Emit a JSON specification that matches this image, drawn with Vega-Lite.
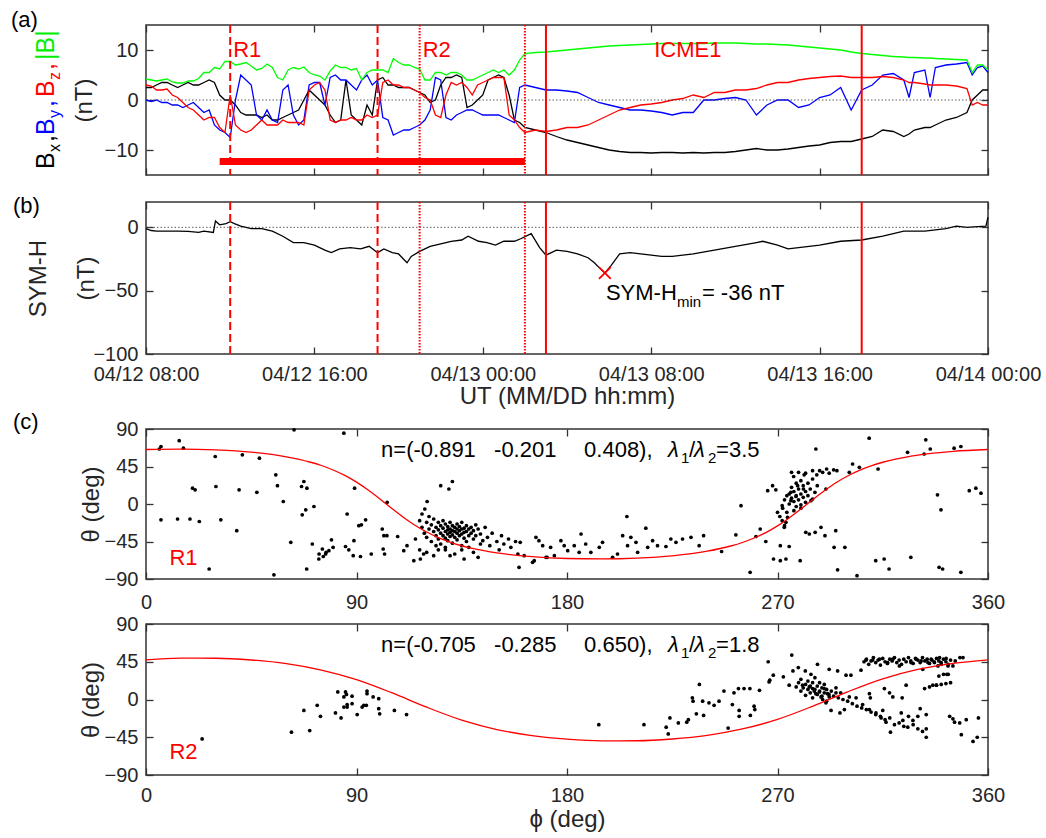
{
"$schema": "https://vega.github.io/schema/vega-lite/v6.json",
"background": "white",
"padding": {"left": 10, "top": 8, "right": 2, "bottom": 2},
"config": {
  "font": "Liberation Sans",
  "view": {"stroke": "#333333", "strokeWidth": 1.5},
  "axis": {"domain": false, "grid": false, "labelFontSize": 20, "labelColor": "#262626", "titleFontSize": 24, "titleColor": "#262626", "titleFontWeight": "normal", "tickColor": "#333333", "tickSize": -7, "tickWidth": 1.3, "labelPadding": 15, "labelFlush": false, "labelOverlap": false, "labelBound": false}
},
"datasets": {
"mag": [
{"t":"2016-04-12T08:00Z","bx":2.5,"by":0,"bz":3,"bt":4.2},
{"t":"2016-04-12T08:15Z","bx":2.5,"by":-0.3,"bz":2.8,"bt":4.0},
{"t":"2016-04-12T08:30Z","bx":3,"by":0,"bz":2,"bt":3.8},
{"t":"2016-04-12T08:45Z","bx":3.5,"by":-0.5,"bz":2,"bt":4.0},
{"t":"2016-04-12T09:00Z","bx":3.5,"by":-0.5,"bz":2.2,"bt":4.2},
{"t":"2016-04-12T09:15Z","bx":3,"by":-1,"bz":1,"bt":3.6},
{"t":"2016-04-12T09:30Z","bx":2.5,"by":-1,"bz":0.5,"bt":3.4},
{"t":"2016-04-12T09:45Z","bx":3,"by":-1.5,"bz":-0.5,"bt":3.4},
{"t":"2016-04-12T10:00Z","bx":3.5,"by":-1,"bz":-1.5,"bt":3.8},
{"t":"2016-04-12T10:15Z","bx":3,"by":-0.5,"bz":-2,"bt":3.8},
{"t":"2016-04-12T10:30Z","bx":3,"by":-1.5,"bz":-3,"bt":4.3},
{"t":"2016-04-12T10:45Z","bx":3.5,"by":-2.5,"bz":-4,"bt":5.5},
{"t":"2016-04-12T11:00Z","bx":4,"by":-2,"bz":-3.5,"bt":5.5},
{"t":"2016-04-12T11:15Z","bx":3.5,"by":-5,"bz":-3.5,"bt":6.5},
{"t":"2016-04-12T11:30Z","bx":1,"by":-6,"bz":-5.5,"bt":6.2},
{"t":"2016-04-12T11:45Z","bx":0,"by":-6.5,"bz":-6.5,"bt":7.7},
{"t":"2016-04-12T12:00Z","bx":0,"by":-7.5,"bz":1,"bt":7.7},
{"t":"2016-04-12T12:15Z","bx":-1,"by":0,"bz":-5,"bt":7},
{"t":"2016-04-12T12:30Z","bx":-2.5,"by":5,"bz":-6,"bt":7.2},
{"t":"2016-04-12T12:45Z","bx":-3,"by":4,"bz":-6.5,"bt":7.5},
{"t":"2016-04-12T13:00Z","bx":-3,"by":3,"bz":-6,"bt":6.8},
{"t":"2016-04-12T13:15Z","bx":-3,"by":-3,"bz":-5,"bt":6},
{"t":"2016-04-12T13:30Z","bx":-3.5,"by":-4,"bz":-4,"bt":6.3},
{"t":"2016-04-12T13:45Z","bx":-3,"by":-2,"bz":-5,"bt":7.2},
{"t":"2016-04-12T14:00Z","bx":-4,"by":-4,"bz":-5,"bt":6.5},
{"t":"2016-04-12T14:15Z","bx":-4,"by":-4.5,"bz":-5,"bt":4.5},
{"t":"2016-04-12T14:30Z","bx":-3.5,"by":2,"bz":-4,"bt":4},
{"t":"2016-04-12T14:45Z","bx":-3,"by":3,"bz":-4.5,"bt":6},
{"t":"2016-04-12T15:00Z","bx":-2.5,"by":-3,"bz":-4.5,"bt":6.5},
{"t":"2016-04-12T15:15Z","bx":-2,"by":-5,"bz":-4.5,"bt":6.2},
{"t":"2016-04-12T15:30Z","bx":0,"by":-4,"bz":-5,"bt":6.6},
{"t":"2016-04-12T15:45Z","bx":2,"by":3,"bz":2,"bt":5.5},
{"t":"2016-04-12T16:00Z","bx":1,"by":3.5,"bz":3,"bt":5},
{"t":"2016-04-12T16:15Z","bx":0,"by":3.5,"bz":3.5,"bt":4.8},
{"t":"2016-04-12T16:30Z","bx":-1,"by":-1,"bz":2,"bt":4},
{"t":"2016-04-12T16:45Z","bx":-3,"by":4.5,"bz":-4,"bt":5.8},
{"t":"2016-04-12T17:00Z","bx":-4.5,"by":5,"bz":-4.5,"bt":7},
{"t":"2016-04-12T17:15Z","bx":-4,"by":4,"bz":-4,"bt":6.5},
{"t":"2016-04-12T17:30Z","bx":4,"by":4,"bz":-4,"bt":6.5},
{"t":"2016-04-12T17:45Z","bx":-3,"by":3,"bz":-3.5,"bt":6},
{"t":"2016-04-12T18:00Z","bx":-4,"by":2,"bz":-4,"bt":6.3},
{"t":"2016-04-12T18:15Z","bx":-5,"by":4,"bz":-4,"bt":4},
{"t":"2016-04-12T18:30Z","bx":-1,"by":5,"bz":-3,"bt":5.5},
{"t":"2016-04-12T18:45Z","bx":-3,"by":3,"bz":-3.5,"bt":6},
{"t":"2016-04-12T19:00Z","bx":4,"by":4,"bz":-3,"bt":6},
{"t":"2016-04-12T19:15Z","bx":4.5,"by":-3.5,"bz":3.5,"bt":6},
{"t":"2016-04-12T19:30Z","bx":3,"by":-4,"bz":4,"bt":5.5},
{"t":"2016-04-12T19:45Z","bx":3,"by":-7,"bz":3,"bt":8.3},
{"t":"2016-04-12T20:00Z","bx":2.5,"by":-6.5,"bz":3,"bt":7.5},
{"t":"2016-04-12T20:15Z","bx":2.5,"by":-6,"bz":2.5,"bt":7},
{"t":"2016-04-12T20:30Z","bx":2.5,"by":-6,"bz":2.5,"bt":7},
{"t":"2016-04-12T20:45Z","bx":2,"by":-5.5,"bz":2,"bt":6.5},
{"t":"2016-04-12T21:00Z","bx":1.5,"by":-5,"bz":1.5,"bt":6.2},
{"t":"2016-04-12T21:15Z","bx":1,"by":-4,"bz":0.5,"bt":4},
{"t":"2016-04-12T21:30Z","bx":-0.5,"by":-2,"bz":0,"bt":4},
{"t":"2016-04-12T21:45Z","bx":0,"by":4.5,"bz":-3,"bt":5.5},
{"t":"2016-04-12T22:00Z","bx":3,"by":4,"bz":-3.5,"bt":5.5},
{"t":"2016-04-12T22:15Z","bx":4.5,"by":-3.5,"bz":1,"bt":5},
{"t":"2016-04-12T22:30Z","bx":4.5,"by":-4,"bz":3.5,"bt":5.5},
{"t":"2016-04-12T22:45Z","bx":5,"by":-3,"bz":3,"bt":5.5},
{"t":"2016-04-12T23:00Z","bx":4.5,"by":-2.5,"bz":3.5,"bt":5},
{"t":"2016-04-12T23:15Z","bx":-1.5,"by":-2,"bz":2.5,"bt":4},
{"t":"2016-04-12T23:30Z","bx":-1,"by":-2,"bz":1,"bt":4},
{"t":"2016-04-12T23:45Z","bx":0,"by":-2.5,"bz":3,"bt":4.5},
{"t":"2016-04-13T00:00Z","bx":1,"by":-3,"bz":3.5,"bt":5},
{"t":"2016-04-13T00:15Z","bx":4,"by":-3,"bz":4,"bt":5.5},
{"t":"2016-04-13T00:30Z","bx":4.5,"by":-3,"bz":4.5,"bt":6},
{"t":"2016-04-13T00:45Z","bx":5,"by":-3,"bz":4.5,"bt":5.5},
{"t":"2016-04-13T01:00Z","bx":4.5,"by":-3.5,"bz":4.5,"bt":6},
{"t":"2016-04-13T01:15Z","bx":1,"by":-4,"bz":-3,"bt":5},
{"t":"2016-04-13T01:30Z","bx":-4,"by":-4.5,"bz":-4,"bt":6},
{"t":"2016-04-13T01:45Z","bx":-4.5,"by":2.5,"bz":-5.5,"bt":8},
{"t":"2016-04-13T02:00Z","bx":-5.5,"by":3,"bz":-6.5,"bt":9.3},
{"t":"2016-04-13T02:30Z","bx":-6,"by":2.5,"bz":-6,"bt":9.5},
{"t":"2016-04-13T03:00Z","bx":-6.5,"by":2,"bz":-6.3,"bt":9.6},
{"t":"2016-04-13T03:30Z","bx":-7.3,"by":2,"bz":-6,"bt":9.8},
{"t":"2016-04-13T04:00Z","bx":-8,"by":1.8,"bz":-5.5,"bt":10},
{"t":"2016-04-13T04:30Z","bx":-8.5,"by":1.5,"bz":-5.5,"bt":10.2},
{"t":"2016-04-13T05:00Z","bx":-9,"by":0.5,"bz":-5,"bt":10.4},
{"t":"2016-04-13T05:30Z","bx":-9.5,"by":-0.5,"bz":-4,"bt":10.6},
{"t":"2016-04-13T06:00Z","bx":-10,"by":-1,"bz":-3,"bt":10.8},
{"t":"2016-04-13T06:30Z","bx":-10.3,"by":-1.5,"bz":-2,"bt":10.9},
{"t":"2016-04-13T07:00Z","bx":-10.5,"by":-2,"bz":-1.5,"bt":11},
{"t":"2016-04-13T07:30Z","bx":-10.5,"by":-2,"bz":-1,"bt":11.1},
{"t":"2016-04-13T08:00Z","bx":-10.6,"by":-2.2,"bz":-0.8,"bt":11.2},
{"t":"2016-04-13T08:30Z","bx":-10.5,"by":-2.5,"bz":-0.5,"bt":11.3},
{"t":"2016-04-13T09:00Z","bx":-10.5,"by":-3,"bz":0,"bt":11.3},
{"t":"2016-04-13T09:30Z","bx":-10.6,"by":-2.5,"bz":0.3,"bt":11.3},
{"t":"2016-04-13T10:00Z","bx":-10.5,"by":-2.5,"bz":1,"bt":11.3},
{"t":"2016-04-13T10:30Z","bx":-10.6,"by":0,"bz":0.5,"bt":11.3},
{"t":"2016-04-13T11:00Z","bx":-10.5,"by":0,"bz":1.5,"bt":11.4},
{"t":"2016-04-13T11:30Z","bx":-10.5,"by":0.3,"bz":1.5,"bt":11.4},
{"t":"2016-04-13T12:00Z","bx":-10.3,"by":0.5,"bz":2,"bt":11.4},
{"t":"2016-04-13T12:30Z","bx":-10,"by":0,"bz":2,"bt":11.3},
{"t":"2016-04-13T13:00Z","bx":-9.7,"by":-3,"bz":2.3,"bt":11.2},
{"t":"2016-04-13T13:30Z","bx":-10,"by":-1,"bz":3,"bt":11.2},
{"t":"2016-04-13T14:00Z","bx":-10,"by":0,"bz":3.5,"bt":11.1},
{"t":"2016-04-13T14:30Z","bx":-9.8,"by":0,"bz":3.5,"bt":11},
{"t":"2016-04-13T15:00Z","bx":-9.5,"by":-1.5,"bz":4,"bt":10.8},
{"t":"2016-04-13T15:30Z","bx":-9.2,"by":-1,"bz":4.3,"bt":10.6},
{"t":"2016-04-13T16:00Z","bx":-9,"by":0.5,"bz":4.5,"bt":10.4},
{"t":"2016-04-13T16:30Z","bx":-8.5,"by":1,"bz":4.7,"bt":10.2},
{"t":"2016-04-13T17:00Z","bx":-8.3,"by":2.5,"bz":4.8,"bt":10},
{"t":"2016-04-13T17:30Z","bx":-8.3,"by":-2,"bz":4.5,"bt":9.6},
{"t":"2016-04-13T18:00Z","bx":-7.8,"by":2,"bz":4.5,"bt":9.3},
{"t":"2016-04-13T18:30Z","bx":-7.3,"by":3,"bz":4.5,"bt":9.1},
{"t":"2016-04-13T19:00Z","bx":-6,"by":5,"bz":4.7,"bt":8.9},
{"t":"2016-04-13T19:30Z","bx":-6.3,"by":5.3,"bz":4.5,"bt":8.7},
{"t":"2016-04-13T20:00Z","bx":-7.3,"by":4,"bz":4,"bt":8.6},
{"t":"2016-04-13T20:15Z","bx":-6.8,"by":0.5,"bz":3.5,"bt":8.5},
{"t":"2016-04-13T20:30Z","bx":-6,"by":5.5,"bz":3.5,"bt":8.5},
{"t":"2016-04-13T21:00Z","bx":-5.5,"by":6,"bz":3.2,"bt":8.4},
{"t":"2016-04-13T21:15Z","bx":-5.5,"by":0.5,"bz":3,"bt":8.4},
{"t":"2016-04-13T21:30Z","bx":-5,"by":6.5,"bz":3,"bt":8.3},
{"t":"2016-04-13T22:00Z","bx":-4,"by":7,"bz":3,"bt":8.2},
{"t":"2016-04-13T22:30Z","bx":-3.5,"by":7.2,"bz":2.8,"bt":8.1},
{"t":"2016-04-13T23:00Z","bx":-2.5,"by":7.5,"bz":2.3,"bt":8},
{"t":"2016-04-13T23:15Z","bx":0,"by":5,"bz":-1,"bt":5.5},
{"t":"2016-04-13T23:30Z","bx":1,"by":6.5,"bz":-0.5,"bt":7},
{"t":"2016-04-13T23:45Z","bx":2,"by":6.8,"bz":-1,"bt":7},
{"t":"2016-04-14T00:00Z","bx":2,"by":5.5,"bz":-1,"bt":6}
],
"symh": [
{"t":"2016-04-12T08:00Z","symh":-1},{"t":"2016-04-12T08:15Z","symh":-2.5},{"t":"2016-04-12T08:30Z","symh":-3},{"t":"2016-04-12T09:00Z","symh":-3},{"t":"2016-04-12T09:30Z","symh":-3},{"t":"2016-04-12T10:00Z","symh":-3.2},{"t":"2016-04-12T10:30Z","symh":-4},{"t":"2016-04-12T10:45Z","symh":-3},{"t":"2016-04-12T11:12Z","symh":-4},{"t":"2016-04-12T11:18Z","symh":5},{"t":"2016-04-12T11:30Z","symh":2},{"t":"2016-04-12T11:48Z","symh":3},{"t":"2016-04-12T12:00Z","symh":4.5},{"t":"2016-04-12T12:12Z","symh":3},{"t":"2016-04-12T12:30Z","symh":1},{"t":"2016-04-12T13:00Z","symh":-1},{"t":"2016-04-12T13:30Z","symh":-1},{"t":"2016-04-12T14:00Z","symh":-3},{"t":"2016-04-12T14:30Z","symh":-7},{"t":"2016-04-12T15:00Z","symh":-12},{"t":"2016-04-12T15:30Z","symh":-12},{"t":"2016-04-12T16:00Z","symh":-14},{"t":"2016-04-12T16:30Z","symh":-18},{"t":"2016-04-12T16:48Z","symh":-20},{"t":"2016-04-12T17:12Z","symh":-17},{"t":"2016-04-12T17:42Z","symh":-16},{"t":"2016-04-12T18:12Z","symh":-17},{"t":"2016-04-12T18:36Z","symh":-15},{"t":"2016-04-12T19:00Z","symh":-20},{"t":"2016-04-12T19:18Z","symh":-17},{"t":"2016-04-12T19:42Z","symh":-20},{"t":"2016-04-12T20:00Z","symh":-21},{"t":"2016-04-12T20:24Z","symh":-28},{"t":"2016-04-12T20:36Z","symh":-23},{"t":"2016-04-12T21:00Z","symh":-19},{"t":"2016-04-12T21:30Z","symh":-15},{"t":"2016-04-12T22:00Z","symh":-13},{"t":"2016-04-12T22:30Z","symh":-11},{"t":"2016-04-12T23:00Z","symh":-10},{"t":"2016-04-12T23:18Z","symh":-7},{"t":"2016-04-12T23:48Z","symh":-11},{"t":"2016-04-13T00:12Z","symh":-12},{"t":"2016-04-13T00:36Z","symh":-14},{"t":"2016-04-13T01:00Z","symh":-11},{"t":"2016-04-13T01:30Z","symh":-11},{"t":"2016-04-13T01:48Z","symh":-9},{"t":"2016-04-13T02:18Z","symh":-5},{"t":"2016-04-13T02:42Z","symh":-16},{"t":"2016-04-13T03:00Z","symh":-22},{"t":"2016-04-13T03:30Z","symh":-18},{"t":"2016-04-13T04:00Z","symh":-19},{"t":"2016-04-13T04:30Z","symh":-21},{"t":"2016-04-13T05:00Z","symh":-24},{"t":"2016-04-13T05:18Z","symh":-28},{"t":"2016-04-13T05:36Z","symh":-33},{"t":"2016-04-13T05:48Z","symh":-36},{"t":"2016-04-13T06:06Z","symh":-30},{"t":"2016-04-13T06:30Z","symh":-21},{"t":"2016-04-13T07:00Z","symh":-20},{"t":"2016-04-13T07:30Z","symh":-21},{"t":"2016-04-13T08:00Z","symh":-22},{"t":"2016-04-13T08:30Z","symh":-23},{"t":"2016-04-13T09:00Z","symh":-23},{"t":"2016-04-13T10:00Z","symh":-21},{"t":"2016-04-13T11:00Z","symh":-18},{"t":"2016-04-13T12:00Z","symh":-15},{"t":"2016-04-13T13:00Z","symh":-12},{"t":"2016-04-13T13:18Z","symh":-11},{"t":"2016-04-13T14:00Z","symh":-14},{"t":"2016-04-13T14:30Z","symh":-17},{"t":"2016-04-13T15:00Z","symh":-16},{"t":"2016-04-13T16:00Z","symh":-14},{"t":"2016-04-13T17:00Z","symh":-11},{"t":"2016-04-13T18:00Z","symh":-10},{"t":"2016-04-13T19:00Z","symh":-7},{"t":"2016-04-13T20:00Z","symh":-3},{"t":"2016-04-13T21:00Z","symh":-3},{"t":"2016-04-13T22:00Z","symh":-1},{"t":"2016-04-13T22:30Z","symh":1},{"t":"2016-04-13T23:00Z","symh":0},{"t":"2016-04-13T23:30Z","symh":0.5},{"t":"2016-04-13T23:54Z","symh":1},{"t":"2016-04-14T00:00Z","symh":8}
],
"symhmin": [{"t":"2016-04-13T05:48Z","symh":-36}],
"events": [
{"t":"2016-04-12T12:00Z","interval":"R1"},{"t":"2016-04-12T19:00Z","interval":"R1"},
{"t":"2016-04-12T21:00Z","interval":"R2"},{"t":"2016-04-13T02:00Z","interval":"R2"},
{"t":"2016-04-13T03:00Z","interval":"ICME1"},{"t":"2016-04-13T18:00Z","interval":"ICME1"}
],
"span": [{"start":"2016-04-12T11:30Z","end":"2016-04-13T02:00Z","level":-12.3}],
"labelsA": [{"t":"2016-04-12T12:00Z","y":10,"label":"R1"},{"t":"2016-04-12T21:00Z","y":10,"label":"R2"},{"t":"2016-04-13T08:00Z","y":10,"label":"ICME1"}],
"curve1": [
{"phi":0,"theta":65.4},{"phi":15,"theta":65.9},{"phi":30,"theta":64.9},{"phi":45,"theta":62.2},{"phi":60,"theta":56.6},{"phi":70,"theta":50.4},{"phi":75,"theta":46.2},{"phi":80,"theta":40.8},{"phi":85,"theta":34.3},{"phi":90,"theta":26.2},{"phi":95,"theta":16.7},{"phi":100,"theta":6.1},{"phi":105,"theta":-5.1},{"phi":110,"theta":-15.8},{"phi":115,"theta":-25.5},{"phi":120,"theta":-33.6},{"phi":125,"theta":-40.3},{"phi":130,"theta":-45.7},{"phi":135,"theta":-50.1},{"phi":140,"theta":-53.6},{"phi":150,"theta":-58.7},{"phi":165,"theta":-63.2},{"phi":180,"theta":-65.4},{"phi":195,"theta":-65.9},{"phi":210,"theta":-64.9},{"phi":225,"theta":-62.2},{"phi":240,"theta":-56.6},{"phi":250,"theta":-50.4},{"phi":255,"theta":-46.2},{"phi":260,"theta":-40.8},{"phi":265,"theta":-34.3},{"phi":270,"theta":-26.2},{"phi":275,"theta":-16.7},{"phi":280,"theta":-6.1},{"phi":285,"theta":5.1},{"phi":290,"theta":15.8},{"phi":295,"theta":25.5},{"phi":300,"theta":33.6},{"phi":305,"theta":40.3},{"phi":310,"theta":45.7},{"phi":315,"theta":50.1},{"phi":320,"theta":53.6},{"phi":330,"theta":58.7},{"phi":345,"theta":63.2},{"phi":360,"theta":65.4}
],
"curve2": [
{"phi":0,"theta":47.3},{"phi":15,"theta":49.3},{"phi":30,"theta":49.2},{"phi":45,"theta":47.1},{"phi":60,"theta":42.7},{"phi":75,"theta":35.1},{"phi":90,"theta":23.7},{"phi":105,"theta":8.1},{"phi":120,"theta":-9.2},{"phi":135,"theta":-24.6},{"phi":150,"theta":-35.8},{"phi":165,"theta":-43.0},{"phi":180,"theta":-47.3},{"phi":195,"theta":-49.3},{"phi":210,"theta":-49.2},{"phi":225,"theta":-47.1},{"phi":240,"theta":-42.7},{"phi":255,"theta":-35.1},{"phi":270,"theta":-23.7},{"phi":285,"theta":-8.1},{"phi":300,"theta":9.2},{"phi":315,"theta":24.6},{"phi":330,"theta":35.8},{"phi":345,"theta":43.0},{"phi":360,"theta":47.3}
],
"c1": [
{"phi":5.7,"theta":66},{"phi":6.4,"theta":69},{"phi":14.2,"theta":76},{"phi":16,"theta":67},{"phi":6.4,"theta":-19},{"phi":13.5,"theta":-18},{"phi":18.8,"theta":-18},{"phi":22.8,"theta":-21},{"phi":19.9,"theta":19},{"phi":21,"theta":17},{"phi":27,"theta":-78},{"phi":29.6,"theta":57},{"phi":29.9,"theta":21},{"phi":32,"theta":-19},{"phi":38.8,"theta":-32},{"phi":39.8,"theta":17},{"phi":41.2,"theta":59},{"phi":47.4,"theta":14},{"phi":48.5,"theta":55},{"phi":54.7,"theta":-85},{"phi":55.5,"theta":35},{"phi":56.2,"theta":22},{"phi":58.7,"theta":3},{"phi":61.9,"theta":-46},{"phi":63.3,"theta":89},{"phi":66.5,"theta":21},{"phi":67.5,"theta":27},{"phi":68.8,"theta":19},{"phi":66.8,"theta":-13},{"phi":68.3,"theta":-7},{"phi":68.7,"theta":-78},{"phi":71.1,"theta":-48},{"phi":71.8,"theta":-3},{"phi":73.9,"theta":-66},{"phi":75.4,"theta":-54},{"phi":76.8,"theta":-60},{"phi":75.8,"theta":-63},{"phi":78.2,"theta":-56},{"phi":79.3,"theta":-43},{"phi":84.6,"theta":85},{"phi":86,"theta":-12},{"phi":85.3,"theta":-51},{"phi":86.7,"theta":-55},{"phi":88.9,"theta":-44},{"phi":88.6,"theta":-62},{"phi":89.2,"theta":19},{"phi":91,"theta":-26},{"phi":92.1,"theta":-25},{"phi":93.9,"theta":-19},{"phi":91.7,"theta":-63},{"phi":96.3,"theta":-60},{"phi":101,"theta":-30},{"phi":101.7,"theta":-38},{"phi":101.4,"theta":-54},{"phi":102,"theta":-60},{"phi":103.1,"theta":2},{"phi":103,"theta":-38},{"phi":107.6,"theta":-39},{"phi":110.2,"theta":-56},{"phi":111.6,"theta":-50},{"phi":114.5,"theta":-68},{"phi":115.2,"theta":-42},{"phi":117.3,"theta":-66},{"phi":118.7,"theta":-60},{"phi":120.2,"theta":3},{"phi":119.2,"theta":-6},{"phi":77,"theta":-58},{"phi":80,"theta":-52},{"phi":74,"theta":-60},
{"phi":126,"theta":22},{"phi":129.5,"theta":18},{"phi":131,"theta":27},
{"phi":117,"theta":-20},{"phi":118,"theta":-12},{"phi":118,"theta":-28},{"phi":119,"theta":-35},{"phi":120,"theta":-22},{"phi":120,"theta":-40},{"phi":121,"theta":-15},{"phi":121,"theta":-30},{"phi":122,"theta":-25},{"phi":122,"theta":-45},{"phi":123,"theta":-18},{"phi":123,"theta":-33},{"phi":124,"theta":-28},{"phi":124,"theta":-38},{"phi":124,"theta":-50},{"phi":125,"theta":-22},{"phi":125,"theta":-31},{"phi":125,"theta":-42},{"phi":126,"theta":-26},{"phi":126,"theta":-35},{"phi":126,"theta":-48},{"phi":127,"theta":-20},{"phi":127,"theta":-29},{"phi":127,"theta":-38},{"phi":128,"theta":-24},{"phi":128,"theta":-33},{"phi":128,"theta":-41},{"phi":128,"theta":-55},{"phi":129,"theta":-27},{"phi":129,"theta":-31},{"phi":129,"theta":-36},{"phi":129,"theta":-44},{"phi":130,"theta":-22},{"phi":130,"theta":-30},{"phi":130,"theta":-34},{"phi":130,"theta":-39},{"phi":131,"theta":-26},{"phi":131,"theta":-32},{"phi":131,"theta":-37},{"phi":131,"theta":-47},{"phi":132,"theta":-28},{"phi":132,"theta":-33},{"phi":132,"theta":-40},{"phi":133,"theta":-24},{"phi":133,"theta":-30},{"phi":133,"theta":-35},{"phi":133,"theta":-43},{"phi":134,"theta":-27},{"phi":134,"theta":-32},{"phi":134,"theta":-38},{"phi":135,"theta":-22},{"phi":135,"theta":-30},{"phi":135,"theta":-36},{"phi":135,"theta":-50},{"phi":136,"theta":-29},{"phi":136,"theta":-34},{"phi":136,"theta":-41},{"phi":137,"theta":-26},{"phi":137,"theta":-33},{"phi":137,"theta":-45},{"phi":138,"theta":-30},{"phi":138,"theta":-38},{"phi":139,"theta":-28},{"phi":139,"theta":-35},{"phi":140,"theta":-32},{"phi":140,"theta":-42},{"phi":141,"theta":-25},{"phi":141,"theta":-38},{"phi":142,"theta":-30},{"phi":143,"theta":-36},{"phi":144,"theta":-44},{"phi":145,"theta":-28},
{"phi":117,"theta":-55},{"phi":120,"theta":-58},{"phi":123,"theta":-62},{"phi":125,"theta":-55},{"phi":128,"theta":-52},{"phi":132,"theta":-60},{"phi":135,"theta":-55},{"phi":138,"theta":-52},{"phi":140,"theta":-58},{"phi":143,"theta":-48},{"phi":146,"theta":-40},{"phi":147,"theta":-50},{"phi":148,"theta":-35},{"phi":150,"theta":-45},{"phi":151,"theta":-55},{"phi":152,"theta":-38},{"phi":153,"theta":-48},{"phi":155,"theta":-42},{"phi":156,"theta":-52},{"phi":158,"theta":-45},{"phi":159,"theta":-60},{"phi":142,"theta":-64},{"phi":136,"theta":-66},{"phi":130,"theta":-62},{"phi":159.5,"theta":-76},{"phi":166,"theta":-68},{"phi":171.5,"theta":-64},
{"phi":160,"theta":-46},{"phi":161.7,"theta":-62},{"phi":165.3,"theta":-70},{"phi":166.7,"theta":-40},{"phi":168,"theta":-44},{"phi":169.6,"theta":-50},{"phi":171,"theta":-64},{"phi":173,"theta":-52},{"phi":174.6,"theta":-62},{"phi":177.4,"theta":-44},{"phi":178.8,"theta":-50},{"phi":180.3,"theta":-56},{"phi":183.1,"theta":-50},{"phi":185.2,"theta":-58},{"phi":186,"theta":-36},{"phi":188,"theta":-48},{"phi":190.2,"theta":-58},{"phi":193.8,"theta":-52},{"phi":195.2,"theta":-46},{"phi":199.5,"theta":-64},{"phi":201.6,"theta":-60},{"phi":203.8,"theta":-38},{"phi":205.6,"theta":-15},{"phi":205.9,"theta":-50},{"phi":207.3,"theta":-40},{"phi":209.5,"theta":-46},{"phi":210.2,"theta":-58},{"phi":213.7,"theta":-29},{"phi":214.5,"theta":-52},{"phi":216.6,"theta":-44},{"phi":218.7,"theta":-50},{"phi":222.3,"theta":-51},{"phi":224.4,"theta":-42},{"phi":226.6,"theta":-46},{"phi":229.4,"theta":-42},{"phi":233,"theta":-40},{"phi":236.5,"theta":-50},{"phi":238.4,"theta":-38},{"phi":246.1,"theta":-57},{"phi":252.2,"theta":-37},{"phi":254.4,"theta":-2},{"phi":258.3,"theta":-82},{"phi":260.8,"theta":-39},{"phi":262.6,"theta":-30},{"phi":265,"theta":-45},{"phi":267.9,"theta":22},{"phi":265.8,"theta":16},{"phi":269.3,"theta":17},{"phi":268.3,"theta":-66},{"phi":271.2,"theta":-50},{"phi":271.2,"theta":-68},{"phi":273.6,"theta":-66},{"phi":272.2,"theta":-5},{"phi":272.9,"theta":-28},{"phi":273.6,"theta":-22},{"phi":274.3,"theta":-16},{"phi":275,"theta":-51},{"phi":275.7,"theta":4},{"phi":275.7,"theta":14},{"phi":276.9,"theta":33},{"phi":277.9,"theta":9},{"phi":278.6,"theta":22},{"phi":279.7,"theta":-68},{"phi":280,"theta":-1},{"phi":281.1,"theta":18},{"phi":281.4,"theta":35},{"phi":282.1,"theta":-34},{"phi":283.6,"theta":-36},{"phi":284.3,"theta":4},{"phi":286.4,"theta":66},{"phi":286.1,"theta":-34},{"phi":286.8,"theta":35},{"phi":288.6,"theta":-28},{"phi":289.3,"theta":38},{"phi":290.3,"theta":-38},{"phi":290.7,"theta":18},{"phi":292.1,"theta":37},{"phi":294.2,"theta":-52},{"phi":294.9,"theta":-32},{"phi":295.4,"theta":40},{"phi":295.7,"theta":-79},{"phi":298.8,"theta":-52},{"phi":300.7,"theta":38},{"phi":302.1,"theta":48},{"phi":304,"theta":-86},{"phi":305,"theta":44},{"phi":309.2,"theta":79},{"phi":312,"theta":-68},{"phi":313,"theta":42},{"phi":315.6,"theta":-66},{"phi":317.7,"theta":-78},{"phi":325.6,"theta":62},{"phi":327,"theta":-64},{"phi":332.7,"theta":60},{"phi":333.4,"theta":77},{"phi":335.3,"theta":66},{"phi":338.4,"theta":11},{"phi":339.9,"theta":-7},{"phi":339.1,"theta":-76},{"phi":340.6,"theta":-78},{"phi":345.5,"theta":67},{"phi":348.4,"theta":69},{"phi":348.4,"theta":-82},{"phi":352,"theta":16},{"phi":354.8,"theta":19},{"phi":357,"theta":13},
{"phi":272,"theta":-2},{"phi":273,"theta":5},{"phi":274,"theta":10},{"phi":274,"theta":-10},{"phi":275,"theta":12},{"phi":275,"theta":0},{"phi":276,"theta":7},{"phi":276,"theta":20},{"phi":277,"theta":3},{"phi":277,"theta":15},{"phi":277,"theta":-8},{"phi":278,"theta":10},{"phi":278,"theta":25},{"phi":278,"theta":-3},{"phi":279,"theta":5},{"phi":279,"theta":18},{"phi":280,"theta":12},{"phi":280,"theta":28},{"phi":280,"theta":-5},{"phi":281,"theta":8},{"phi":281,"theta":22},{"phi":282,"theta":15},{"phi":282,"theta":2},{"phi":283,"theta":10},{"phi":283,"theta":25},{"phi":284,"theta":18},{"phi":285,"theta":6},{"phi":285,"theta":30},{"phi":286,"theta":14},{"phi":287,"theta":22},{"phi":271,"theta":-15},{"phi":272,"theta":-20},{"phi":273,"theta":-26},{"phi":270,"theta":-10},
{"phi":276,"theta":38},{"phi":279,"theta":38},{"phi":282,"theta":37},{"phi":285,"theta":40},{"phi":288,"theta":40},{"phi":291,"theta":42},{"phi":294,"theta":41}
],
"c2": [
{"phi":24,"theta":-47},{"phi":62.2,"theta":-39},{"phi":67.5,"theta":-13},{"phi":70,"theta":-37},{"phi":73.2,"theta":-7},{"phi":74.6,"theta":-20},{"phi":81,"theta":-16},{"phi":82,"theta":9},{"phi":83.4,"theta":-22},{"phi":84.6,"theta":3},{"phi":85.3,"theta":9},{"phi":85.7,"theta":6},{"phi":84.6,"theta":-9},{"phi":86,"theta":-9},{"phi":88.1,"theta":4},{"phi":88.1,"theta":-5},{"phi":90.3,"theta":-18},{"phi":92.4,"theta":-9},{"phi":93.1,"theta":-7},{"phi":94.5,"theta":10},{"phi":94.5,"theta":7},{"phi":94.2,"theta":-7},{"phi":97.1,"theta":3},{"phi":99.5,"theta":1},{"phi":99.5,"theta":-11},{"phi":99.9,"theta":-17},{"phi":106.2,"theta":-13},{"phi":111.4,"theta":-18},{"phi":86,"theta":-6},
{"phi":193.6,"theta":-30},{"phi":212.9,"theta":-30},{"phi":222.4,"theta":-33},{"phi":223.3,"theta":-41},{"phi":224,"theta":-22},{"phi":227.6,"theta":-28},{"phi":231.2,"theta":-27},{"phi":231.9,"theta":-24},{"phi":233.6,"theta":2},{"phi":233.9,"theta":-2},{"phi":235.3,"theta":-17},{"phi":236.6,"theta":18},{"phi":238,"theta":-2},{"phi":238.4,"theta":-19},{"phi":240.7,"theta":-4},{"phi":242.9,"theta":-7},{"phi":245,"theta":-2},{"phi":247.1,"theta":10},{"phi":248.9,"theta":-34},{"phi":250.7,"theta":-6},{"phi":251.4,"theta":8},{"phi":253.3,"theta":13},{"phi":253.6,"theta":-13},{"phi":253.6,"theta":-20},{"phi":255.7,"theta":13},{"phi":258.2,"theta":13},{"phi":258.4,"theta":-19},{"phi":260,"theta":-8},{"phi":260.3,"theta":-12},{"phi":262.3,"theta":11},{"phi":266,"theta":45},{"phi":266.4,"theta":21},{"phi":266.7,"theta":23},{"phi":268.2,"theta":29},{"phi":272.5,"theta":27},{"phi":275,"theta":17},{"phi":276.1,"theta":53},{"phi":276.6,"theta":34},{"phi":278.9,"theta":38},{"phi":280.7,"theta":17},{"phi":281.9,"theta":34},{"phi":283.6,"theta":15},{"phi":284.3,"theta":30},{"phi":285,"theta":13},{"phi":287.1,"theta":42},{"phi":285.7,"theta":10},{"phi":286.4,"theta":7},{"phi":287.9,"theta":9},{"phi":288.6,"theta":3},{"phi":289.3,"theta":0},{"phi":290,"theta":13},{"phi":290.7,"theta":-4},{"phi":291.4,"theta":7},{"phi":292.1,"theta":36},{"phi":292.1,"theta":3},{"phi":292.9,"theta":-13},{"phi":295,"theta":8},{"phi":295.7,"theta":34},{"phi":296.7,"theta":-16},{"phi":298.6,"theta":-12},{"phi":299.3,"theta":29},{"phi":300.7,"theta":3},{"phi":301.4,"theta":29},{"phi":303.6,"theta":2},{"phi":305.7,"theta":35},{"phi":306.4,"theta":-6},{"phi":307.9,"theta":47},{"phi":309.3,"theta":7},{"phi":309.7,"theta":2},{"phi":309.3,"theta":-12},{"phi":310.7,"theta":47},{"phi":312.1,"theta":-16},{"phi":313.6,"theta":48},{"phi":314.3,"theta":-22},{"phi":315,"theta":-13},{"phi":315.7,"theta":13},{"phi":316.4,"theta":-27},{"phi":317.1,"theta":44},{"phi":317.9,"theta":8},{"phi":318.3,"theta":-39},{"phi":319.3,"theta":48},{"phi":319.3,"theta":3},{"phi":322.1,"theta":40},{"phi":322.9,"theta":-16},{"phi":323.3,"theta":2},{"phi":323.6,"theta":-25},{"phi":325,"theta":17},{"phi":325.7,"theta":-33},{"phi":327.1,"theta":44},{"phi":327.9,"theta":-25},{"phi":329.3,"theta":48},{"phi":330,"theta":-20},{"phi":331,"theta":-11},{"phi":331.4,"theta":46},{"phi":332.1,"theta":36},{"phi":332.9,"theta":13},{"phi":333.6,"theta":-18},{"phi":333.6,"theta":-35},{"phi":333.6,"theta":-45},{"phi":334.3,"theta":44},{"phi":335,"theta":15},{"phi":335.7,"theta":48},{"phi":336.4,"theta":17},{"phi":337.1,"theta":44},{"phi":337.9,"theta":17},{"phi":338.6,"theta":40},{"phi":339.3,"theta":50},{"phi":340,"theta":42},{"phi":342.1,"theta":49},{"phi":342.4,"theta":30},{"phi":342.9,"theta":40},{"phi":343.6,"theta":-20},{"phi":345,"theta":-23},{"phi":345.7,"theta":-27},{"phi":347.9,"theta":-28},{"phi":348.6,"theta":-42},{"phi":349.3,"theta":50},{"phi":350.7,"theta":-24},{"phi":353.6,"theta":-50},{"phi":355.4,"theta":-45},{"phi":355.9,"theta":-22},
{"phi":307,"theta":45},{"phi":308,"theta":48},{"phi":309,"theta":42},{"phi":310,"theta":46},{"phi":311,"theta":50},{"phi":312,"theta":44},{"phi":313,"theta":47},{"phi":314,"theta":41},{"phi":315,"theta":49},{"phi":316,"theta":45},{"phi":317,"theta":43},{"phi":318,"theta":48},{"phi":319,"theta":46},{"phi":320,"theta":50},{"phi":321,"theta":44},{"phi":322,"theta":47},{"phi":323,"theta":42},{"phi":324,"theta":48},{"phi":325,"theta":45},{"phi":326,"theta":50},{"phi":327,"theta":46},{"phi":328,"theta":43},{"phi":329,"theta":49},{"phi":330,"theta":47},{"phi":331,"theta":44},{"phi":332,"theta":50},{"phi":333,"theta":46},{"phi":334,"theta":48},{"phi":335,"theta":43},{"phi":336,"theta":47},{"phi":337,"theta":45},{"phi":338,"theta":49},{"phi":339,"theta":46},{"phi":340,"theta":44},{"phi":341,"theta":48},{"phi":342,"theta":45},{"phi":343,"theta":42},{"phi":344,"theta":47},{"phi":345,"theta":40},{"phi":346,"theta":46},{"phi":348,"theta":50},
{"phi":278,"theta":15},{"phi":279,"theta":20},{"phi":280,"theta":10},{"phi":280,"theta":24},{"phi":281,"theta":14},{"phi":282,"theta":18},{"phi":282,"theta":5},{"phi":283,"theta":22},{"phi":283,"theta":12},{"phi":284,"theta":8},{"phi":284,"theta":16},{"phi":285,"theta":20},{"phi":285,"theta":2},{"phi":286,"theta":12},{"phi":286,"theta":26},{"phi":287,"theta":6},{"phi":287,"theta":16},{"phi":288,"theta":10},{"phi":288,"theta":20},{"phi":289,"theta":4},{"phi":289,"theta":14},{"phi":290,"theta":8},{"phi":290,"theta":18},{"phi":291,"theta":-2},{"phi":291,"theta":12},{"phi":292,"theta":6},{"phi":293,"theta":10},{"phi":294,"theta":4},{"phi":295,"theta":14},{"phi":296,"theta":2},{"phi":297,"theta":8},{"phi":298,"theta":0},
{"phi":300,"theta":-2},{"phi":302,"theta":-5},{"phi":304,"theta":-8},{"phi":306,"theta":-10},{"phi":308,"theta":-12},{"phi":310,"theta":-15},{"phi":312,"theta":-18},{"phi":314,"theta":-20},{"phi":316,"theta":-24},{"phi":318,"theta":-22},{"phi":320,"theta":-30},{"phi":322,"theta":-28},{"phi":324,"theta":-32},{"phi":326,"theta":-20},{"phi":328,"theta":-30},{"phi":330,"theta":-35},{"phi":332,"theta":-38},
{"phi":338,"theta":17},{"phi":340,"theta":18},{"phi":342,"theta":19},{"phi":344,"theta":20},{"phi":339,"theta":28},{"phi":341,"theta":30},{"phi":343,"theta":30}
]
},
"bounds": "flush",
"spacing": 0,
"vconcat": [
{
 "width": 842, "height": 150,
 "resolve": {"axis": {"x": "independent", "y": "independent"}},
 "layer": [
  {"data": {"name": "mag"}, "transform": [{"fold": ["bx","by","bz","bt"], "as": ["component","nT"]}],
   "mark": {"type": "line", "strokeWidth": 1.3},
   "encoding": {
    "x": {"field": "t", "type": "temporal", "scale": {"type": "utc", "domain": [{"year":2016,"month":4,"date":12,"hours":8,"utc":true},{"year":2016,"month":4,"date":14,"hours":0,"utc":true}]},
          "axis": {"orient": "bottom", "labels": false, "title": null, "values": [{"year":2016,"month":4,"date":12,"hours":8,"utc":true},{"year":2016,"month":4,"date":12,"hours":16,"utc":true},{"year":2016,"month":4,"date":13,"hours":0,"utc":true},{"year":2016,"month":4,"date":13,"hours":8,"utc":true},{"year":2016,"month":4,"date":13,"hours":16,"utc":true},{"year":2016,"month":4,"date":14,"hours":0,"utc":true}]}},
    "y": {"field": "nT", "type": "quantitative", "scale": {"domain": [-15,15], "nice": false, "zero": false}, "axis": {"values": [-10,0,10], "title": "(nT)", "titlePadding": 8}},
    "color": {"field": "component", "type": "nominal", "scale": {"domain": ["bx","by","bz","bt"], "range": ["#000000","#0000ff","#ff0000","#00ff00"]}, "legend": null}
   }},
  {"data": {"name": "mag"}, "mark": {"type": "point", "opacity": 0},
   "encoding": {
    "x": {"field": "t", "type": "temporal", "scale": {"type": "utc", "domain": [{"year":2016,"month":4,"date":12,"hours":8,"utc":true},{"year":2016,"month":4,"date":14,"hours":0,"utc":true}]},
          "axis": {"orient": "top", "labels": false, "title": null, "values": [{"year":2016,"month":4,"date":12,"hours":8,"utc":true},{"year":2016,"month":4,"date":12,"hours":16,"utc":true},{"year":2016,"month":4,"date":13,"hours":0,"utc":true},{"year":2016,"month":4,"date":13,"hours":8,"utc":true},{"year":2016,"month":4,"date":13,"hours":16,"utc":true},{"year":2016,"month":4,"date":14,"hours":0,"utc":true}]}},
    "y": {"field": "bx", "type": "quantitative", "scale": {"domain": [-15,15], "nice": false, "zero": false}, "axis": {"orient": "right", "labels": false, "title": null, "values": [-10,0,10]}}
   }},
  {"data": {"values": [{}]}, "mark": {"type": "rule", "color": "#333333", "strokeWidth": 0.8, "strokeDash": [1.5,2]},
   "encoding": {"y": {"datum": 0, "type": "quantitative", "scale": {"domain": [-15,15], "nice": false, "zero": false}, "axis": null}}},
  {"data": {"name": "events"}, "transform": [{"filter": {"field": "interval", "equal": "R1"}}], "mark": {"type": "rule", "color": "#ff0000", "strokeWidth": 2, "strokeDash": [8,4]},
   "encoding": {"x": {"field": "t", "type": "temporal", "axis": null}}},
  {"data": {"name": "events"}, "transform": [{"filter": {"field": "interval", "equal": "R2"}}], "mark": {"type": "rule", "color": "#ff0000", "strokeWidth": 2, "strokeDash": [1.5,1.5]},
   "encoding": {"x": {"field": "t", "type": "temporal", "axis": null}}},
  {"data": {"name": "events"}, "transform": [{"filter": {"field": "interval", "equal": "ICME1"}}], "mark": {"type": "rule", "color": "#ff0000", "strokeWidth": 2},
   "encoding": {"x": {"field": "t", "type": "temporal", "axis": null}}},
  {"data": {"name": "span"}, "mark": {"type": "rule", "color": "#ff0000", "strokeWidth": 7},
   "encoding": {"x": {"field": "start", "type": "temporal", "axis": null}, "x2": {"field": "end"}, "y": {"field": "level", "type": "quantitative", "axis": null}}},
  {"data": {"name": "labelsA"}, "mark": {"type": "text", "color": "#ff0000", "fontSize": 22, "align": "left", "baseline": "middle", "dx": 3},
   "encoding": {"x": {"field": "t", "type": "temporal", "axis": null}, "y": {"field": "y", "type": "quantitative", "axis": null}, "text": {"field": "label"}}},
  {"data": {"values": [{}]}, "mark": {"type": "text", "text": "(a)", "fontSize": 22, "align": "left", "baseline": "top", "dx": -135, "dy": -15, "color": "#000000"},
   "encoding": {"x": {"datum": {"year":2016,"month":4,"date":12,"hours":8,"utc":true}, "type": "temporal", "axis": null}, "y": {"datum": 15, "type": "quantitative", "axis": null}}},
  {"data": {"values": [{}]}, "mark": {"type": "text", "text": "B", "angle": 270, "align": "left", "baseline": "alphabetic", "fontSize": 25, "color": "#000000", "dx": -69, "dy": -92},
   "encoding": {"x": {"datum": {"year":2016,"month":4,"date":12,"hours":8,"utc":true}, "type": "temporal", "axis": null}, "y": {"datum": 0, "type": "quantitative", "axis": null}}},
  {"data": {"values": [{}]}, "mark": {"type": "text", "text": "x", "angle": 270, "align": "left", "baseline": "alphabetic", "fontSize": 16, "color": "#000000", "dx": -52, "dy": -86},
   "encoding": {"x": {"datum": {"year":2016,"month":4,"date":12,"hours":8,"utc":true}, "type": "temporal", "axis": null}, "y": {"datum": 0, "type": "quantitative", "axis": null}}},
  {"data": {"values": [{}]}, "mark": {"type": "text", "text": ",", "angle": 270, "align": "left", "baseline": "alphabetic", "fontSize": 25, "color": "#000000", "dx": -42, "dy": -92},
   "encoding": {"x": {"datum": {"year":2016,"month":4,"date":12,"hours":8,"utc":true}, "type": "temporal", "axis": null}, "y": {"datum": 0, "type": "quantitative", "axis": null}}},
  {"data": {"values": [{}]}, "mark": {"type": "text", "text": "B", "angle": 270, "align": "left", "baseline": "alphabetic", "fontSize": 25, "color": "#0000ff", "dx": -35, "dy": -92},
   "encoding": {"x": {"datum": {"year":2016,"month":4,"date":12,"hours":8,"utc":true}, "type": "temporal", "axis": null}, "y": {"datum": 0, "type": "quantitative", "axis": null}}},
  {"data": {"values": [{}]}, "mark": {"type": "text", "text": "y", "angle": 270, "align": "left", "baseline": "alphabetic", "fontSize": 16, "color": "#0000ff", "dx": -18, "dy": -86},
   "encoding": {"x": {"datum": {"year":2016,"month":4,"date":12,"hours":8,"utc":true}, "type": "temporal", "axis": null}, "y": {"datum": 0, "type": "quantitative", "axis": null}}},
  {"data": {"values": [{}]}, "mark": {"type": "text", "text": ",", "angle": 270, "align": "left", "baseline": "alphabetic", "fontSize": 25, "color": "#0000ff", "dx": -7, "dy": -92},
   "encoding": {"x": {"datum": {"year":2016,"month":4,"date":12,"hours":8,"utc":true}, "type": "temporal", "axis": null}, "y": {"datum": 0, "type": "quantitative", "axis": null}}},
  {"data": {"values": [{}]}, "mark": {"type": "text", "text": "B", "angle": 270, "align": "left", "baseline": "alphabetic", "fontSize": 25, "color": "#ff0000", "dx": 3, "dy": -92},
   "encoding": {"x": {"datum": {"year":2016,"month":4,"date":12,"hours":8,"utc":true}, "type": "temporal", "axis": null}, "y": {"datum": 0, "type": "quantitative", "axis": null}}},
  {"data": {"values": [{}]}, "mark": {"type": "text", "text": "z", "angle": 270, "align": "left", "baseline": "alphabetic", "fontSize": 16, "color": "#ff0000", "dx": 20, "dy": -86},
   "encoding": {"x": {"datum": {"year":2016,"month":4,"date":12,"hours":8,"utc":true}, "type": "temporal", "axis": null}, "y": {"datum": 0, "type": "quantitative", "axis": null}}},
  {"data": {"values": [{}]}, "mark": {"type": "text", "text": ",", "angle": 270, "align": "left", "baseline": "alphabetic", "fontSize": 25, "color": "#ff0000", "dx": 30, "dy": -92},
   "encoding": {"x": {"datum": {"year":2016,"month":4,"date":12,"hours":8,"utc":true}, "type": "temporal", "axis": null}, "y": {"datum": 0, "type": "quantitative", "axis": null}}},
  {"data": {"values": [{}]}, "mark": {"type": "text", "text": "|B|", "angle": 270, "align": "left", "baseline": "alphabetic", "fontSize": 25, "color": "#00ee00", "dx": 40, "dy": -92},
   "encoding": {"x": {"datum": {"year":2016,"month":4,"date":12,"hours":8,"utc":true}, "type": "temporal", "axis": null}, "y": {"datum": 0, "type": "quantitative", "axis": null}}}
 ]
},
{"width": 842, "height": 27, "view": {"stroke": null}, "data": {"values": [{}]}, "mark": {"type": "text", "text": ""}, "encoding": {}},
{
 "width": 842, "height": 152,
 "resolve": {"axis": {"x": "independent", "y": "independent"}},
 "layer": [
  {"data": {"name": "symh"}, "mark": {"type": "line", "color": "#000000", "strokeWidth": 1.3},
   "encoding": {
    "x": {"field": "t", "type": "temporal", "scale": {"type": "utc", "domain": [{"year":2016,"month":4,"date":12,"hours":8,"utc":true},{"year":2016,"month":4,"date":14,"hours":0,"utc":true}]},
          "axis": {"orient": "bottom", "labelExpr": "utcFormat(datum.value, '%m/%d %H:%M')", "title": "UT (MM/DD hh:mm)", "labelPadding": 17, "titlePadding": 0, "values": [{"year":2016,"month":4,"date":12,"hours":8,"utc":true},{"year":2016,"month":4,"date":12,"hours":16,"utc":true},{"year":2016,"month":4,"date":13,"hours":0,"utc":true},{"year":2016,"month":4,"date":13,"hours":8,"utc":true},{"year":2016,"month":4,"date":13,"hours":16,"utc":true},{"year":2016,"month":4,"date":14,"hours":0,"utc":true}]}},
    "y": {"field": "symh", "type": "quantitative", "scale": {"domain": [-100,20], "nice": false, "zero": false}, "axis": {"values": [-100,-50,0], "title": ["SYM-H", "(nT)"], "titleLineHeight": 48, "titlePadding": -6}}
   }},
  {"data": {"name": "symh"}, "mark": {"type": "point", "opacity": 0},
   "encoding": {
    "x": {"field": "t", "type": "temporal", "axis": {"orient": "top", "labels": false, "title": null, "values": [{"year":2016,"month":4,"date":12,"hours":8,"utc":true},{"year":2016,"month":4,"date":12,"hours":16,"utc":true},{"year":2016,"month":4,"date":13,"hours":0,"utc":true},{"year":2016,"month":4,"date":13,"hours":8,"utc":true},{"year":2016,"month":4,"date":13,"hours":16,"utc":true},{"year":2016,"month":4,"date":14,"hours":0,"utc":true}]}},
    "y": {"field": "symh", "type": "quantitative", "axis": {"orient": "right", "labels": false, "title": null, "values": [-100,-50,0]}}
   }},
  {"data": {"values": [{}]}, "mark": {"type": "rule", "color": "#333333", "strokeWidth": 0.8, "strokeDash": [1.5,2]},
   "encoding": {"y": {"datum": 0, "type": "quantitative", "axis": null}}},
  {"data": {"name": "events"}, "transform": [{"filter": {"field": "interval", "equal": "R1"}}], "mark": {"type": "rule", "color": "#ff0000", "strokeWidth": 2, "strokeDash": [8,4]},
   "encoding": {"x": {"field": "t", "type": "temporal", "axis": null}}},
  {"data": {"name": "events"}, "transform": [{"filter": {"field": "interval", "equal": "R2"}}], "mark": {"type": "rule", "color": "#ff0000", "strokeWidth": 2, "strokeDash": [1.5,1.5]},
   "encoding": {"x": {"field": "t", "type": "temporal", "axis": null}}},
  {"data": {"name": "events"}, "transform": [{"filter": {"field": "interval", "equal": "ICME1"}}], "mark": {"type": "rule", "color": "#ff0000", "strokeWidth": 2},
   "encoding": {"x": {"field": "t", "type": "temporal", "axis": null}}},
  {"data": {"name": "symhmin"}, "mark": {"type": "point", "shape": "M-1,-1L1,1M-1,1L1,-1", "size": 140, "filled": false, "stroke": "#ff0000", "strokeWidth": 1.8, "opacity": 1},
   "encoding": {"x": {"field": "t", "type": "temporal", "axis": null}, "y": {"field": "symh", "type": "quantitative", "axis": null}}},
  {"data": {"name": "symhmin"}, "mark": {"type": "text", "text": "SYM-H", "fontSize": 22, "align": "left", "baseline": "alphabetic", "color": "#000000", "dx": 1, "dy": 27.5},
   "encoding": {"x": {"field": "t", "type": "temporal", "axis": null}, "y": {"field": "symh", "type": "quantitative", "axis": null}}},
  {"data": {"name": "symhmin"}, "mark": {"type": "text", "text": "min", "fontSize": 15, "align": "left", "baseline": "alphabetic", "color": "#000000", "dx": 72, "dy": 34},
   "encoding": {"x": {"field": "t", "type": "temporal", "axis": null}, "y": {"field": "symh", "type": "quantitative", "axis": null}}},
  {"data": {"name": "symhmin"}, "mark": {"type": "text", "text": "= -36 nT", "fontSize": 22, "align": "left", "baseline": "alphabetic", "color": "#000000", "dx": 97, "dy": 27.5},
   "encoding": {"x": {"field": "t", "type": "temporal", "axis": null}, "y": {"field": "symh", "type": "quantitative", "axis": null}}},
  {"data": {"values": [{}]}, "mark": {"type": "text", "text": "(b)", "fontSize": 22, "align": "left", "baseline": "top", "dx": -133, "dy": -6, "color": "#000000"},
   "encoding": {"x": {"datum": {"year":2016,"month":4,"date":12,"hours":8,"utc":true}, "type": "temporal", "axis": null}, "y": {"datum": 20, "type": "quantitative", "axis": null}}}
 ]
},
{"width": 842, "height": 75, "view": {"stroke": null}, "data": {"values": [{}]}, "mark": {"type": "text", "text": ""}, "encoding": {}},
{
 "width": 842, "height": 150,
 "resolve": {"axis": {"x": "independent", "y": "independent"}},
 "layer": [
  {"data": {"name": "c1"}, "mark": {"type": "circle", "color": "#000000", "size": 14, "opacity": 1},
   "encoding": {
    "x": {"field": "phi", "type": "quantitative", "scale": {"domain": [0,360], "nice": false, "zero": false}, "axis": {"values": [0,90,180,270,360], "title": null, "labelPadding": 20.5}},
    "y": {"field": "theta", "type": "quantitative", "scale": {"domain": [-90,90], "nice": false, "zero": false}, "axis": {"values": [-90,-45,0,45,90], "title": "θ (deg)", "titlePadding": 1}}
   }},
  {"data": {"name": "curve1"}, "mark": {"type": "line", "color": "#ff0000", "strokeWidth": 1.3, "interpolate": "monotone"},
   "encoding": {"x": {"field": "phi", "type": "quantitative", "axis": null}, "y": {"field": "theta", "type": "quantitative", "axis": null}}},
  {"data": {"name": "curve1"}, "mark": {"type": "point", "opacity": 0},
   "encoding": {
    "x": {"field": "phi", "type": "quantitative", "axis": {"orient": "top", "labels": false, "title": null, "values": [0,90,180,270,360]}},
    "y": {"field": "theta", "type": "quantitative", "axis": {"orient": "right", "labels": false, "title": null, "values": [-90,-45,0,45,90]}}
   }},
  {"data": {"values": [{}]}, "mark": {"type": "text", "text": "R1", "fontSize": 22, "align": "left", "baseline": "alphabetic", "color": "#ff0000"},
   "encoding": {"x": {"datum": 10, "type": "quantitative", "axis": null}, "y": {"datum": -73, "type": "quantitative", "axis": null}}},
  {"data": {"values": [{}]}, "mark": {"type": "text", "text": "n=(-0.891", "fontSize": 22, "align": "left", "baseline": "alphabetic", "color": "#000000", "dx": 0},
   "encoding": {"x": {"datum": 100.5, "type": "quantitative", "axis": null}, "y": {"datum": 56, "type": "quantitative", "axis": null}}},
  {"data": {"values": [{}]}, "mark": {"type": "text", "text": "-0.201", "fontSize": 22, "align": "left", "baseline": "alphabetic", "color": "#000000", "dx": 113},
   "encoding": {"x": {"datum": 100.5, "type": "quantitative", "axis": null}, "y": {"datum": 56, "type": "quantitative", "axis": null}}},
  {"data": {"values": [{}]}, "mark": {"type": "text", "text": "0.408),", "fontSize": 22, "align": "left", "baseline": "alphabetic", "color": "#000000", "dx": 203},
   "encoding": {"x": {"datum": 100.5, "type": "quantitative", "axis": null}, "y": {"datum": 56, "type": "quantitative", "axis": null}}},
  {"data": {"values": [{}]}, "mark": {"type": "text", "text": "λ", "fontSize": 22, "fontStyle": "italic", "align": "left", "baseline": "alphabetic", "color": "#000000", "dx": 287},
   "encoding": {"x": {"datum": 100.5, "type": "quantitative", "axis": null}, "y": {"datum": 56, "type": "quantitative", "axis": null}}},
  {"data": {"values": [{}]}, "mark": {"type": "text", "text": "1", "fontSize": 15, "align": "left", "baseline": "alphabetic", "color": "#000000", "dx": 300, "dy": 6},
   "encoding": {"x": {"datum": 100.5, "type": "quantitative", "axis": null}, "y": {"datum": 56, "type": "quantitative", "axis": null}}},
  {"data": {"values": [{}]}, "mark": {"type": "text", "text": "/", "fontSize": 22, "align": "left", "baseline": "alphabetic", "color": "#000000", "dx": 308},
   "encoding": {"x": {"datum": 100.5, "type": "quantitative", "axis": null}, "y": {"datum": 56, "type": "quantitative", "axis": null}}},
  {"data": {"values": [{}]}, "mark": {"type": "text", "text": "λ", "fontSize": 22, "fontStyle": "italic", "align": "left", "baseline": "alphabetic", "color": "#000000", "dx": 313},
   "encoding": {"x": {"datum": 100.5, "type": "quantitative", "axis": null}, "y": {"datum": 56, "type": "quantitative", "axis": null}}},
  {"data": {"values": [{}]}, "mark": {"type": "text", "text": "2", "fontSize": 15, "align": "left", "baseline": "alphabetic", "color": "#000000", "dx": 327, "dy": 6},
   "encoding": {"x": {"datum": 100.5, "type": "quantitative", "axis": null}, "y": {"datum": 56, "type": "quantitative", "axis": null}}},
  {"data": {"values": [{}]}, "mark": {"type": "text", "text": "=3.5", "fontSize": 22, "align": "left", "baseline": "alphabetic", "color": "#000000", "dx": 335},
   "encoding": {"x": {"datum": 100.5, "type": "quantitative", "axis": null}, "y": {"datum": 56, "type": "quantitative", "axis": null}}},
  {"data": {"values": [{}]}, "mark": {"type": "text", "text": "(c)", "fontSize": 22, "align": "left", "baseline": "top", "dx": -133, "dy": -17, "color": "#000000"},
   "encoding": {"x": {"datum": 0, "type": "quantitative", "axis": null}, "y": {"datum": 90, "type": "quantitative", "axis": null}}}
 ]
},
{"width": 842, "height": 45, "view": {"stroke": null}, "data": {"values": [{}]}, "mark": {"type": "text", "text": ""}, "encoding": {}},
{
 "width": 842, "height": 151,
 "resolve": {"axis": {"x": "independent", "y": "independent"}},
 "layer": [
  {"data": {"name": "c2"}, "mark": {"type": "circle", "color": "#000000", "size": 14, "opacity": 1},
   "encoding": {
    "x": {"field": "phi", "type": "quantitative", "scale": {"domain": [0,360], "nice": false, "zero": false}, "axis": {"values": [0,90,180,270,360], "title": "ϕ (deg)", "labelPadding": 17.5, "titlePadding": 2}},
    "y": {"field": "theta", "type": "quantitative", "scale": {"domain": [-90,90], "nice": false, "zero": false}, "axis": {"values": [-90,-45,0,45,90], "title": "θ (deg)", "titlePadding": 1}}
   }},
  {"data": {"name": "curve2"}, "mark": {"type": "line", "color": "#ff0000", "strokeWidth": 1.3, "interpolate": "monotone"},
   "encoding": {"x": {"field": "phi", "type": "quantitative", "axis": null}, "y": {"field": "theta", "type": "quantitative", "axis": null}}},
  {"data": {"name": "curve2"}, "mark": {"type": "point", "opacity": 0},
   "encoding": {
    "x": {"field": "phi", "type": "quantitative", "axis": {"orient": "top", "labels": false, "title": null, "values": [0,90,180,270,360]}},
    "y": {"field": "theta", "type": "quantitative", "axis": {"orient": "right", "labels": false, "title": null, "values": [-90,-45,0,45,90]}}
   }},
  {"data": {"values": [{}]}, "mark": {"type": "text", "text": "R2", "fontSize": 22, "align": "left", "baseline": "alphabetic", "color": "#ff0000"},
   "encoding": {"x": {"datum": 10, "type": "quantitative", "axis": null}, "y": {"datum": -71, "type": "quantitative", "axis": null}}},
  {"data": {"values": [{}]}, "mark": {"type": "text", "text": "n=(-0.705", "fontSize": 22, "align": "left", "baseline": "alphabetic", "color": "#000000", "dx": 0},
   "encoding": {"x": {"datum": 100.5, "type": "quantitative", "axis": null}, "y": {"datum": 56.5, "type": "quantitative", "axis": null}}},
  {"data": {"values": [{}]}, "mark": {"type": "text", "text": "-0.285", "fontSize": 22, "align": "left", "baseline": "alphabetic", "color": "#000000", "dx": 113},
   "encoding": {"x": {"datum": 100.5, "type": "quantitative", "axis": null}, "y": {"datum": 56.5, "type": "quantitative", "axis": null}}},
  {"data": {"values": [{}]}, "mark": {"type": "text", "text": "0.650),", "fontSize": 22, "align": "left", "baseline": "alphabetic", "color": "#000000", "dx": 203},
   "encoding": {"x": {"datum": 100.5, "type": "quantitative", "axis": null}, "y": {"datum": 56.5, "type": "quantitative", "axis": null}}},
  {"data": {"values": [{}]}, "mark": {"type": "text", "text": "λ", "fontSize": 22, "fontStyle": "italic", "align": "left", "baseline": "alphabetic", "color": "#000000", "dx": 287},
   "encoding": {"x": {"datum": 100.5, "type": "quantitative", "axis": null}, "y": {"datum": 56.5, "type": "quantitative", "axis": null}}},
  {"data": {"values": [{}]}, "mark": {"type": "text", "text": "1", "fontSize": 15, "align": "left", "baseline": "alphabetic", "color": "#000000", "dx": 300, "dy": 6},
   "encoding": {"x": {"datum": 100.5, "type": "quantitative", "axis": null}, "y": {"datum": 56.5, "type": "quantitative", "axis": null}}},
  {"data": {"values": [{}]}, "mark": {"type": "text", "text": "/", "fontSize": 22, "align": "left", "baseline": "alphabetic", "color": "#000000", "dx": 308},
   "encoding": {"x": {"datum": 100.5, "type": "quantitative", "axis": null}, "y": {"datum": 56.5, "type": "quantitative", "axis": null}}},
  {"data": {"values": [{}]}, "mark": {"type": "text", "text": "λ", "fontSize": 22, "fontStyle": "italic", "align": "left", "baseline": "alphabetic", "color": "#000000", "dx": 313},
   "encoding": {"x": {"datum": 100.5, "type": "quantitative", "axis": null}, "y": {"datum": 56.5, "type": "quantitative", "axis": null}}},
  {"data": {"values": [{}]}, "mark": {"type": "text", "text": "2", "fontSize": 15, "align": "left", "baseline": "alphabetic", "color": "#000000", "dx": 327, "dy": 6},
   "encoding": {"x": {"datum": 100.5, "type": "quantitative", "axis": null}, "y": {"datum": 56.5, "type": "quantitative", "axis": null}}},
  {"data": {"values": [{}]}, "mark": {"type": "text", "text": "=1.8", "fontSize": 22, "align": "left", "baseline": "alphabetic", "color": "#000000", "dx": 335},
   "encoding": {"x": {"datum": 100.5, "type": "quantitative", "axis": null}, "y": {"datum": 56.5, "type": "quantitative", "axis": null}}}
 ]
}
]
}
